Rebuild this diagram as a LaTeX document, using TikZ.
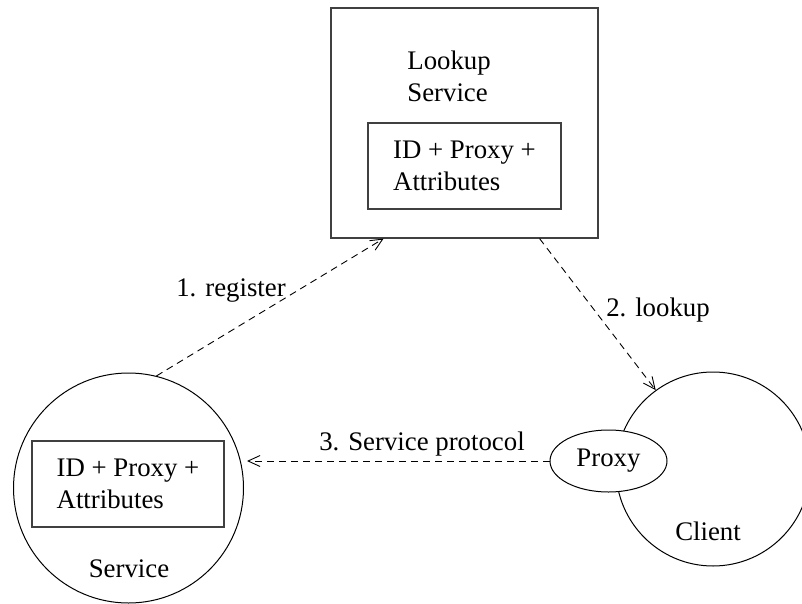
\documentclass[tikz,border=0pt]{standalone}
\usepackage{fontspec}
\setmainfont{Liberation Serif}
\usetikzlibrary{shapes.geometric,arrows.meta}

\begin{document}
\begin{tikzpicture}[
  x=0.5pt, y=-0.5pt,
  every node/.style={font=\fontsize{13.4}{16}\selectfont},
  box/.style={draw=black!75, line width=0.6pt, rectangle, inner sep=0pt},
  host/.style={draw, circle, line width=0.5pt, inner sep=0pt},
  stub/.style={draw, ellipse, fill=white, line width=0.5pt, inner sep=0pt, minimum width=58.5pt, minimum height=31pt},
  arr/.style={-{Straight Barb[length=6pt,width=5.5pt]}, dash pattern=on 3.5pt off 2.5pt, line width=0.45pt}
]
  \useasboundingbox (0,0) rectangle (802,604);

  % lookup service with its registry entry
  \node[box, minimum width=133.5pt, minimum height=115pt] (lookup) at (464.5,123) {};
  \node[anchor=west, inner sep=0pt, align=left] (lookupname) at (407,76) {Lookup\\Service};
  \node[box, minimum width=96.5pt, minimum height=43pt, align=left] (registry) at (464.5,166) {ID + Proxy +\\Attributes};

  % service side
  \node[host, minimum size=115pt] (service) at (128.5,488) {};
  \node[box, minimum width=96pt, minimum height=43pt, align=left] (attrs) at (128,484) {ID + Proxy +\\Attributes};
  \node (servicename) at (129,569) {Service};

  % client side
  \node[host, minimum size=97pt] (client) at (713,469) {};
  \node (clientname) at (708,531) {Client};
  \node[stub] (proxy) at (608.5,461) {Proxy};

  \node (reglbl) at (231,291) {1. register};
  \node (lookuplbl) at (658,310) {2. lookup};
  \node (protolbl) at (422,444) {3. Service protocol};

  \draw[arr] (service.76) -- (lookup.235);
  \draw[arr] (lookup.303.5) -- (client.126);
  \draw[arr, shorten >=1.5pt] (proxy.west) -- (proxy.west -| service.east);
\end{tikzpicture}
\end{document}
